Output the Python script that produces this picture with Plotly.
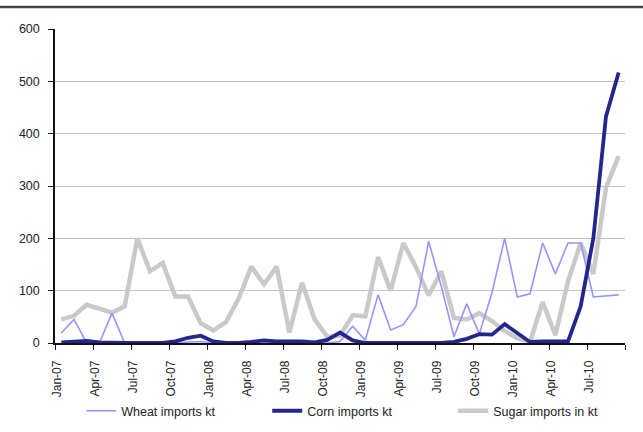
import plotly.graph_objects as go
import pandas as pd

months = [d.strftime("%b-%y") for d in pd.date_range("2007-01-01", "2010-09-01", freq="MS")]

wheat = [19, 45, 0, 0, 57, 0, 0, 0, 0, 0, 2, 3, 0, 0, 0, 0, 0, 0, 0, 0,
         0, 0, 3, 32, 5, 92, 25, 35, 70, 194, 108, 12, 75, 17, 96, 200, 88, 94, 191, 132,
         191, 191, 88, 90, 92]
corn = [1, 3, 4, 1, 0, 0, 0, 0, 0, 3, 10, 14, 3, 0, 0, 2, 5, 3, 3, 3,
        1, 6, 20, 5, 0, 0, 0, 0, 0, 0, 0, 2, 8, 17, 16, 36, 20, 2, 3, 3,
        3, 70, 200, 433, 517]
sugar = [45, 52, 73, 65, 58, 70, 200, 137, 153, 89, 89, 38, 24, 40, 85, 146, 112, 146, 20, 115,
         45, 12, 14, 53, 51, 164, 100, 191, 145, 91, 137, 48, 45, 57, 42, 23, 9, 2, 78, 15,
         118, 191, 132, 297, 357]

tick_labels = ["Jan-07", "Apr-07", "Jul-07", "Oct-07", "Jan-08", "Apr-08", "Jul-08", "Oct-08",
               "Jan-09", "Apr-09", "Jul-09", "Oct-09", "Jan-10", "Apr-10", "Jul-10"]
y_ticks = [0, 100, 200, 300, 400, 500, 600]

x = list(range(len(months)))
# tick marks sit on category boundaries every 3 months
tickvals = [i - 0.5 for i in range(0, len(months) + 1, 3)]
ticktext = tick_labels + [""]

fig = go.Figure()
fig.add_trace(go.Scatter(x=x, y=sugar, mode="lines", name="Sugar imports in kt",
                         line=dict(color="#c9c9c9", width=4.5), legendrank=3))
fig.add_trace(go.Scatter(x=x, y=wheat, mode="lines", name="Wheat imports kt",
                         line=dict(color="#9494ff", width=1.6), legendrank=1))
fig.add_trace(go.Scatter(x=x, y=corn, mode="lines", name="Corn imports kt",
                         line=dict(color="#25258e", width=3.8), legendrank=2))

fig.update_layout(
    width=643, height=432,
    margin=dict(l=55, r=18, t=29, b=89, autoexpand=False),
    paper_bgcolor="white", plot_bgcolor="white",
    font=dict(family="Liberation Sans, Arial, sans-serif", size=12, color="#222"),
    showlegend=True,
    legend=dict(orientation="h", x=0.046, y=-0.217, xanchor="left", yanchor="middle",
                entrywidth=141, font=dict(size=12.5, color="#222"),
                bgcolor="rgba(0,0,0,0)", traceorder="normal"),
    xaxis=dict(range=[-0.5, len(months) - 0.5], tickmode="array", tickvals=tickvals,
               ticktext=ticktext, tickangle=-90, ticks="outside", ticklen=5, tickwidth=1,
               tickcolor="#111", showline=True, linecolor="#111", linewidth=1.5,
               showgrid=False, zeroline=False, ticklabelshift=2, ticklabelstandoff=6,
               automargin=False, tickfont=dict(size=12, color="#222")),
    yaxis=dict(range=[0, 600], tickmode="array", tickvals=y_ticks, ticks="outside",
               ticklen=5, tickwidth=1, tickcolor="#111", showline=True, linecolor="#111",
               linewidth=1.5, showgrid=True, gridcolor="#c4c4c4", gridwidth=1,
               zeroline=False, ticklabelstandoff=6, automargin=False,
               tickfont=dict(size=12.5, color="#222")),
)

# header rule at the top of the image
fig.add_shape(type="line", xref="paper", yref="paper",
              x0=-55 / 570, x1=1 + 18 / 570, y0=1 + 22 / 314, y1=1 + 22 / 314,
              line=dict(color="#444", width=2.5))

fig.write_html("out.html", config={"displayModeBar": False},
               post_script="document.body.style.margin='0';")
